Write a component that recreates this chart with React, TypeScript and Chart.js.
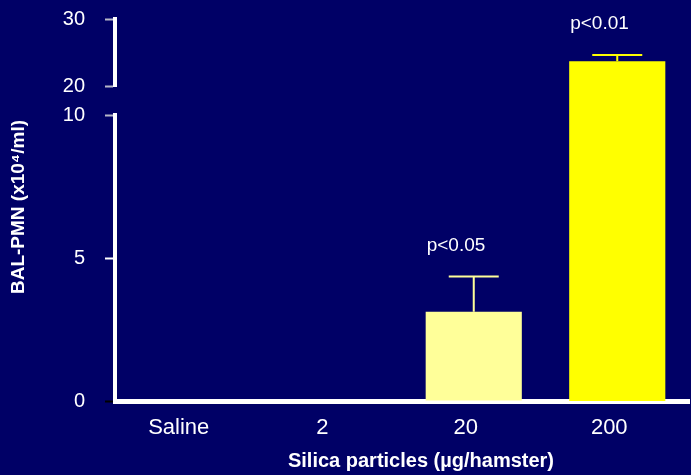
import { useEffect, useRef } from 'react';
import { Chart, registerables } from 'chart.js';

Chart.register(...registerables);

// Dose groups and BAL neutrophil counts (x10^4 / ml), mean and SEM
const categories = ['Saline', '2', '20', '200'];
const pmnMean = [0, 0, 3.12, 23.7];
const pmnSem = [0, 0, 1.23, 0.93];
const pLabels = ['', '', 'p<0.05', 'p<0.01'];
const barColors = ['#FFFF99', '#FFFF99', '#FFFF99', '#FFFF00'];

// Broken value axis: a lower segment and an upper segment
const lowerRange = [0, 10];
const upperRange = [20, 30];
const lowerTicks = [0, 5, 10];
const upperTicks = [20, 30];

const FONT = "'Liberation Sans', Arial, sans-serif";
const BG = '#000066';

const lowData = pmnMean.map((v) => (v <= lowerRange[1] ? v : null));
const highData = pmnMean.map((v) => (v > lowerRange[1] ? v : null));

const tickColor = (c: any) => {
  const v = c.tick ? c.tick.value : null;
  if (v === 0) return '#000000';
  if (v === 5) return '#ffffff';
  return '#b8b8c8';
};

// fixed-width value axes; label overhang is absorbed by the layout padding
const fitValueAxis = (s: any) => {
  s.width = 115;
  s.paddingTop = 0;
  s.paddingBottom = 0;
};

const overlayPlugin = {
  id: 'errorBarsAndTitles',
  afterDatasetsDraw(chart: any) {
    const ctx = chart.ctx;
    chart.data.datasets.forEach((ds: any, di: number) => {
      const meta = chart.getDatasetMeta(di);
      const scale = chart.scales[meta.yAxisID];
      meta.data.forEach((bar: any, i: number) => {
        const v = ds.data[i];
        if (v == null || !pmnSem[i]) return;
        const { x, y, width } = bar.getProps(['x', 'y', 'width'], true);
        const capY = scale.getPixelForValue(v + pmnSem[i]);
        const half = width * 0.26;
        ctx.save();
        ctx.strokeStyle = barColors[i];
        ctx.lineWidth = 2;
        ctx.beginPath();
        ctx.moveTo(x, y);
        ctx.lineTo(x, capY);
        ctx.moveTo(x - half, capY);
        ctx.lineTo(x + half, capY);
        ctx.stroke();
        if (pLabels[i]) {
          ctx.fillStyle = '#ffffff';
          ctx.font = `19px ${FONT}`;
          ctx.textAlign = 'left';
          ctx.textBaseline = 'alphabetic';
          ctx.fillText(pLabels[i], x - width / 2 + 1, capY - 26);
        }
        ctx.restore();
      });
    });
  },
  afterDraw(chart: any) {
    const ctx = chart.ctx;
    const ca = chart.chartArea;
    ctx.save();
    ctx.fillStyle = '#ffffff';
    ctx.font = `bold 19px ${FONT}`;
    ctx.textAlign = 'center';
    ctx.textBaseline = 'middle';
    ctx.translate(18.5, (ca.top + ca.bottom) / 2 - 3);
    ctx.rotate(-Math.PI / 2);
    ctx.fillText('BAL-PMN (x10\u2074/ml)', 0, 0);
    ctx.restore();

    ctx.save();
    ctx.fillStyle = '#ffffff';
    ctx.font = `bold 20px ${FONT}`;
    ctx.textAlign = 'center';
    ctx.textBaseline = 'alphabetic';
    ctx.fillText('Silica particles (\u00b5g/hamster)', (ca.left + ca.right) / 2 + 19, 467);
    ctx.restore();
  },
};

export default function App() {
  const canvasRef = useRef<HTMLCanvasElement | null>(null);

  useEffect(() => {
    if (!canvasRef.current) return;
    const yGrid = {
      display: true,
      drawOnChartArea: false,
      drawTicks: true,
      tickLength: 10,
      tickWidth: 2,
      tickColor,
    };
    const yTicks = {
      color: '#ffffff',
      font: { family: FONT, size: 20 },
      padding: 20,
    };
    const chart = new Chart(canvasRef.current, {
      type: 'bar',
      data: {
        labels: categories,
        datasets: [
          {
            data: lowData,
            yAxisID: 'y',
            backgroundColor: barColors,
            grouped: false,
            categoryPercentage: 1,
            barPercentage: 0.67,
          },
          {
            data: highData,
            yAxisID: 'yTop',
            backgroundColor: barColors,
            grouped: false,
            categoryPercentage: 1,
            barPercentage: 0.67,
            clip: false,
            // the tall bar runs down through the axis break to the zero line
            base: (c: any) => {
              const s = c.chart.scales;
              return s.yTop.getValueForPixel(s.y.getPixelForValue(0));
            },
          } as any,
        ],
      },
      options: {
        animation: false,
        responsive: true,
        maintainAspectRatio: false,
        layout: { padding: { top: 19, right: 2, left: 0, bottom: 0 } },
        plugins: { legend: { display: false }, tooltip: { enabled: false } },
        scales: {
          x: {
            type: 'category',
            z: 1,
            grid: { display: false, drawTicks: false },
            border: { display: true, color: '#ffffff', width: 5 },
            ticks: {
              color: '#ffffff',
              font: { family: FONT, size: 22 },
              padding: 14,
              labelOffset: -8,
            },
            afterFit: (s: any) => {
              s.height = 74;
            },
          },
          y: {
            type: 'linear',
            position: 'left',
            stack: 'value',
            stackWeight: 286,
            weight: 1,
            min: lowerRange[0],
            max: lowerRange[1],
            grid: yGrid,
            border: { display: true, color: '#ffffff', width: 4 },
            ticks: yTicks,
            afterBuildTicks: (s: any) => {
              s.ticks = lowerTicks.map((value) => ({ value }));
            },
            afterFit: fitValueAxis,
          },
          yGap: {
            type: 'linear',
            position: 'left',
            stack: 'value',
            stackWeight: 29,
            weight: 2,
            min: 0,
            max: 1,
            grid: { display: false, drawTicks: false },
            border: { display: false },
            ticks: { display: false },
            afterFit: fitValueAxis,
          },
          yTop: {
            type: 'linear',
            position: 'left',
            stack: 'value',
            stackWeight: 67,
            weight: 3,
            min: upperRange[0],
            max: upperRange[1],
            grid: yGrid,
            border: { display: true, color: '#ffffff', width: 4 },
            ticks: yTicks,
            afterBuildTicks: (s: any) => {
              s.ticks = upperTicks.map((value) => ({ value }));
            },
            afterFit: fitValueAxis,
          },
        } as any,
      },
      plugins: [overlayPlugin],
    });
    return () => chart.destroy();
  }, []);

  return (
    <div
      style={{
        position: 'fixed',
        left: 0,
        top: 0,
        width: 691,
        height: 475,
        background: BG,
      }}
    >
      <canvas ref={canvasRef} />
    </div>
  );
}
